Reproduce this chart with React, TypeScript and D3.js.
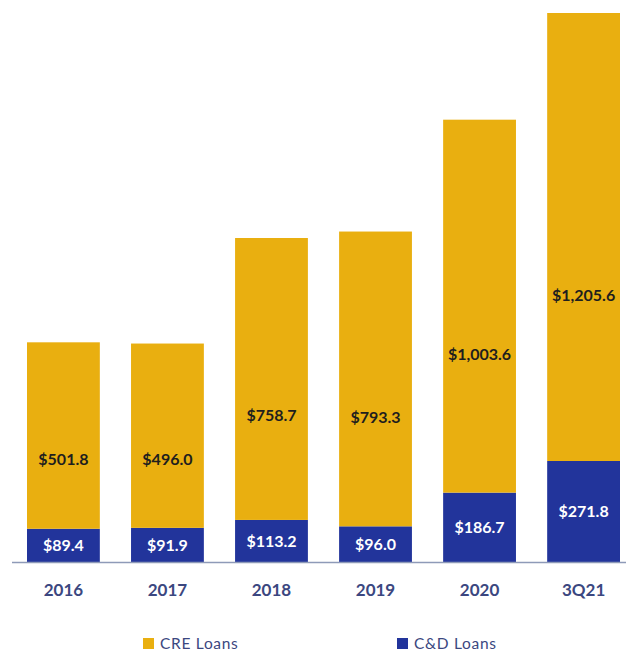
import * as d3 from "d3";
import { useEffect, useRef } from "react";

const periods = ["2016", "2017", "2018", "2019", "2020", "3Q21"];
const cdLoans = [89.4, 91.9, 113.2, 96.0, 186.7, 271.8];
const creLoans = [501.8, 496.0, 758.7, 793.3, 1003.6, 1205.6];
const seriesNames = ["CRE Loans", "C&D Loans"];

const width = 626;
const height = 654;
const marginTop = 13;
const baseline = 562;
const gold = "#E9AF10";
const blue = "#22349B";
const labelBlue = "#3B4780";
const font = "Lato, 'Open Sans', sans-serif";

export default function App() {
  const ref = useRef<SVGSVGElement>(null);

  useEffect(() => {
    const svg = d3.select(ref.current);
    svg.selectAll("*").remove();

    const rows = periods.map((p, i) => ({ period: p, cd: cdLoans[i], cre: creLoans[i] }));
    const stack = d3.stack<any>().keys(["cd", "cre"])(rows);

    const x = d3.scaleBand(periods, [27, 620]).paddingInner(0.3).paddingOuter(0);
    const y = d3.scaleLinear([0, d3.max(rows, (d) => d.cd + d.cre) as number], [baseline, marginTop]);

    const colors = { cd: blue, cre: gold } as Record<string, string>;

    svg
      .append("g")
      .selectAll("g")
      .data(stack)
      .join("g")
      .attr("fill", (s) => colors[s.key])
      .selectAll("rect")
      .data((s) => s)
      .join("rect")
      .attr("x", (d) => x(d.data.period)!)
      .attr("width", x.bandwidth())
      .attr("y", (d) => y(d[1]))
      .attr("height", (d) => y(d[0]) - y(d[1]));

    // axis line
    svg
      .append("line")
      .attr("x1", 12)
      .attr("x2", width)
      .attr("y1", baseline + 0.5)
      .attr("y2", baseline + 0.5)
      .attr("stroke", "#8E9AB8")
      .attr("stroke-width", 1.5);

    // C&D labels
    svg
      .append("g")
      .selectAll("text")
      .data(stack[0])
      .join("text")
      .attr("x", (d) => x(d.data.period)! + x.bandwidth() / 2)
      .attr("y", (d) => (y(d[0]) + y(d[1])) / 2)
      .attr("dy", "0.35em")
      .attr("text-anchor", "middle")
      .attr("fill", "#ffffff")
      .attr("font-family", font)
      .attr("font-weight", "bold")
      .attr("font-size", 16)
      .text((d) => "$" + d3.format(",.1f")(d.data.cd));

    // CRE labels
    svg
      .append("g")
      .selectAll("text")
      .data(stack[1])
      .join("text")
      .attr("x", (d) => x(d.data.period)! + x.bandwidth() / 2)
      .attr("y", (d) => y(d[0]) - (y(d[0]) - y(d[1])) * 0.37)
      .attr("dy", "0.35em")
      .attr("text-anchor", "middle")
      .attr("fill", "#1E1E1E")
      .attr("font-family", font)
      .attr("font-weight", "bold")
      .attr("font-size", 16)
      .text((d) => "$" + d3.format(",.1f")(d.data.cre));

    // category labels
    svg
      .append("g")
      .selectAll("text")
      .data(periods)
      .join("text")
      .attr("x", (d) => x(d)! + x.bandwidth() / 2)
      .attr("y", 590)
      .attr("dy", "0.35em")
      .attr("text-anchor", "middle")
      .attr("fill", labelBlue)
      .attr("font-family", font)
      .attr("font-weight", "bold")
      .attr("font-size", 17)
      .text((d) => d);

    // legend
    const legend = svg
      .append("g")
      .selectAll("g")
      .data(seriesNames)
      .join("g")
      .attr("transform", (_, i) => `translate(${i === 0 ? 143 : 397}, 638)`);

    legend
      .append("rect")
      .attr("width", 11)
      .attr("height", 11)
      .attr("fill", (_, i) => (i === 0 ? gold : blue));

    legend
      .append("text")
      .attr("x", 17)
      .attr("y", 5.5)
      .attr("dy", "0.35em")
      .attr("fill", labelBlue)
      .attr("font-family", font)
      .attr("font-size", 15.5)
      .attr("letter-spacing", 0.7)
      .text((d) => d);
  }, []);

  return (
    <svg
      ref={ref}
      width={width}
      height={height}
      style={{ position: "absolute", left: 0, top: 0, background: "#fff" }}
    />
  );
}
